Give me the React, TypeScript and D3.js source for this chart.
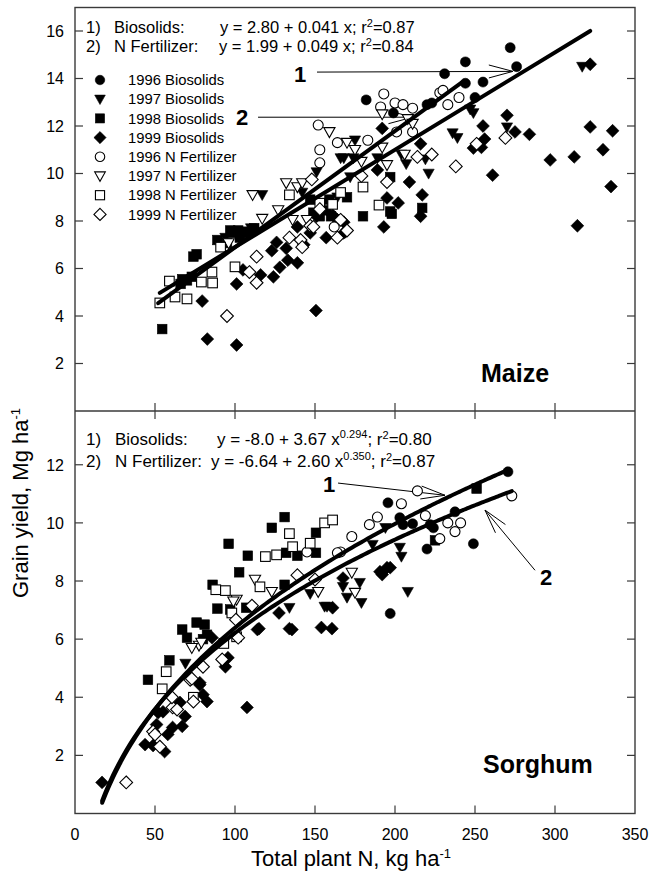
import React from 'react';
import * as d3 from 'd3';

type P = [number, number];

const FONT = "'Liberation Sans', Arial, Helvetica, sans-serif";

const xTicks = [0, 50, 100, 150, 200, 250, 300, 350];
const maizeYTicks = [2, 4, 6, 8, 10, 12, 14, 16];
const sorghumYTicks = [2, 4, 6, 8, 10, 12];

const legendLabels = [
  '1996 Biosolids', '1997 Biosolids', '1998 Biosolids', '1999 Biosolids',
  '1996 N Fertilizer', '1997 N Fertilizer', '1998 N Fertilizer', '1999 N Fertilizer',
];
const legendShapes = ['circle', 'triangle', 'square', 'diamond', 'circle', 'triangle', 'square', 'diamond'];
const legendFilled = [true, true, true, true, false, false, false, false];

// Maize linear fits: y = a + b x
const maizeIntercepts = [2.80, 1.99];
const maizeSlopes = [0.041, 0.049];
const maizeFitRanges: P[] = [[53, 322], [52, 242]];

// Sorghum power fits: y = a + b x^c
const sorghumIntercepts = [-8.0, -6.64];
const sorghumCoefs = [3.67, 2.60];
const sorghumExps = [0.294, 0.350];
const sorghumFitRanges: P[] = [[17, 273], [17, 271]];

// ---------------- Maize data ----------------
const maizeBio1996: P[] = [[182,13.1],[199,12.55],[220,12.9],[223,12.97],[231,14.2],[244,14.7],[244,13.8],[250,13.2],[255,13.85],[272,15.3],[276,14.5]];
const maizeBio1997: P[] = [[117,9.1],[94,7.3],[110,7.7],[142,9.2],[151,10.06],[164,9.0],[166,10.65],[168,10.65],[172,9.85],[174,10.65],[175,11.4],[189,10.65],[204,10.8],[207,10.4],[219,10.6],[221,10.0],[236,11.7],[239,11.5],[247,12.7],[249,12.55],[270,11.95],[317,14.5]];
const maizeBio1998: P[] = [[54.5,3.45],[66,5.35],[70,5.5],[73,5.65],[67,5.55],[74,6.5],[76,6.6],[89,7.2],[95,7.07],[97,7.6],[99,7.5],[102,7.6],[103,7.3],[105,7.55],[108,7.5],[112,7.7],[147,8.9],[149,8.35],[153,8.2],[157,8.45],[159,8.9],[160,8.2],[170,9.0],[180,8.2],[197,9.85],[197,8.4],[198,8.3],[217,8.55]];
const maizeBio1999: P[] = [[79.5,4.63],[82.7,3.03],[101,2.78],[101,5.35],[105,5.94],[116,5.73],[124,5.65],[128,6.05],[133,6.35],[139,6.24],[123,6.75],[132,6.85],[126,7.1],[143,7.0],[139,7.75],[147,7.5],[150.6,4.23],[151,8.2],[157,7.3],[161,8.25],[164,8.05],[168,7.95],[168,7.5],[169,7.55],[189,10.15],[192,11.9],[193,7.75],[195,8.97],[202,8.76],[209,9.64],[216,8.2],[217,9.1],[216,11.25],[249,11.07],[254,11.1],[255,12.0],[256,11.45],[261,9.93],[270,12.45],[275,11.75],[284,11.65],[297,10.57],[312,10.7],[314,7.8],[322,11.96],[322,14.6],[330,11.0],[335,9.45],[336,11.8]];
const maizeNF1996: P[] = [[152,12.04],[153,11.0],[153,10.45],[162,7.75],[164,11.3],[183,11.4],[191,12.8],[193,13.35],[200,12.97],[201,11.75],[205,12.9],[211,12.75],[211,11.75],[228,13.4],[230,13.5],[233,12.9],[240,13.2]];
const maizeNF1997: P[] = [[96,7.07],[111,9.1],[117,8.1],[127,8.46],[132,9.6],[136,8.05],[139,9.43],[142,9.6],[145,8.05],[159,11.75],[170,11.3],[175,11.0],[179,10.5],[192,11.1],[192,12.5],[195,10.36],[206,10.8],[208,12.3],[211,12.1]];
const maizeNF1998: P[] = [[53,4.55],[59,5.47],[62.5,4.8],[70,4.72],[79,5.43],[85.6,5.85],[86,5.39],[91,6.9],[100,6.07],[134,9.1],[153,8.75],[161,8.7],[166,9.2],[180,9.43],[190,8.67]];
const maizeNF1999: P[] = [[95,4.0],[109,5.85],[113.5,6.5],[113.5,5.4],[134,7.3],[141,7.2],[142,6.9],[147,7.8],[148,9.75],[149,7.75],[153,8.5],[164,7.3],[166,8.05],[170,7.6],[179,9.9],[195,9.64],[214,10.7],[223,10.8],[238,10.3],[251,11.25],[269,11.5]];

// ---------------- Sorghum data ----------------
const sorgBio1996: P[] = [[270.6,11.76],[237.5,10.38],[195.6,10.69],[203,10.18],[205,9.94],[211,9.97],[224,9.83],[222,9.94],[220,9.1],[249,9.28],[197,6.88]];
const sorgBio1997: P[] = [[69,5.16],[186,9.25],[194,9.83],[203,9.15],[204,8.84],[208,7.63],[167.5,7.8],[178,7.94],[170,7.43],[157.5,7.12],[147,7.56],[156,7.12],[134,7.08],[179,7.25]];
const sorgBio1998: P[] = [[131,10.2],[123,9.83],[96,9.28],[108,8.87],[102.6,8.3],[86,7.87],[89,7.05],[97,7.02],[107,7.08],[67,6.33],[70,6.05],[76,6.57],[81,6.5],[131,7.87],[132,8.97],[139,8.87],[150.6,8.97],[150.6,9.66],[45.6,4.6],[59,5.27],[80,6.0],[82.5,6.15],[251,11.18],[225,9.4]];
const sorgBio1999: P[] = [[16.9,1.07],[43.8,2.37],[48.8,2.34],[56,2.13],[51,3.06],[52,3.47],[55,3.5],[58,2.72],[61,2.96],[67,3.0],[68.8,3.34],[65.6,3.82],[78,4.5],[80,4.09],[82.5,3.85],[78,4.43],[85.6,6.05],[94,5.05],[95.6,5.36],[107.5,3.65],[114,6.33],[127.5,6.9],[134,6.36],[135.6,6.33],[115,6.36],[160.6,6.36],[161,7.08],[154,6.4],[167.5,8.1],[190.6,8.32],[195,8.46],[197,8.46],[192,8.22]];
const sorgNF1996: P[] = [[273,10.93],[214,11.1],[204,10.66],[189,10.2],[184,9.94],[173,9.53],[166,9.0],[164,8.97],[219,10.25],[233,10.0],[241,10.0],[237.5,9.7],[228,9.46],[145,9.0]];
const sorgNF1997: P[] = [[112.5,8.05],[123,7.63],[101,7.36],[152,7.63],[173,8.29],[175,7.6],[77.5,5.78],[79,5.88],[99,7.3],[73,5.7]];
const sorgNF1998: P[] = [[119,8.84],[126,8.9],[134,9.63],[136,9.18],[147,9.3],[156,10.0],[161,10.1],[88,7.7],[94,7.67],[98,6.9],[115.6,7.8],[57,4.88],[54.5,4.29],[74,4.0],[93,5.85],[101,6.08]];
const sorgNF1999: P[] = [[32,1.07],[48.8,2.82],[50,2.72],[53,2.3],[61,3.65],[63.8,3.58],[60.6,4.0],[72,4.6],[73,4.64],[80,5.05],[74,3.85],[92,5.3],[102,6.05],[100.6,6.67],[110.6,7.15],[139,8.2],[150,8.05]];

const maizeSeries = [maizeBio1996, maizeBio1997, maizeBio1998, maizeBio1999, maizeNF1996, maizeNF1997, maizeNF1998, maizeNF1999];
const sorghumSeries = [sorgBio1996, sorgBio1997, sorgBio1998, sorgBio1999, sorgNF1996, sorgNF1997, sorgNF1998, sorgNF1999];

// Layout
const W = 657, H = 876;
const L = 75, R = 635, TOP = 7.5, MID = 411, BOT = 813.5;

const x = d3.scaleLinear().domain([0, 350]).range([L, R]);
const yMaize = d3.scaleLinear().domain([0, 17]).range([MID, MID - 17 * 23.75]);
const ySorg = d3.scaleLinear().domain([0, 13.85]).range([BOT, MID]);

function Marker({ shape, filled, cx, cy, s = 1 }: { shape: string; filled: boolean; cx: number; cy: number; s?: number }) {
  const props = { fill: filled ? '#000' : '#fff', stroke: '#000', strokeWidth: filled ? 0.6 : 1.1 };
  if (shape === 'circle') return <circle cx={cx} cy={cy} r={5 * s} {...props} />;
  if (shape === 'square') {
    const h = 4.8 * s;
    return <rect x={cx - h} y={cy - h} width={2 * h} height={2 * h} {...props} />;
  }
  if (shape === 'diamond') {
    const r = 6.4 * s;
    return <path d={`M${cx},${cy - r}L${cx + r},${cy}L${cx},${cy + r}L${cx - r},${cy}Z`} {...props} />;
  }
  const w = 5.6 * s;
  return <path d={`M${cx - w},${cy - 4.3 * s}L${cx + w},${cy - 4.3 * s}L${cx},${cy + 5.6 * s}Z`} {...props} />;
}

function Arrow({ from, to, head = true }: { from: P; to: P; head?: boolean }) {
  const [x1, y1] = from, [x2, y2] = to;
  const ang = Math.atan2(y1 - y2, x1 - x2);
  const len = 25, spread = (15 * Math.PI) / 180;
  const a = [x2 + len * Math.cos(ang + spread), y2 + len * Math.sin(ang + spread)];
  const b = [x2 + len * Math.cos(ang - spread), y2 + len * Math.sin(ang - spread)];
  return (
    <g stroke="#000" strokeWidth={1} fill="none">
      <line x1={x1} y1={y1} x2={x2} y2={y2} />
      {head && <path d={`M${a[0]},${a[1]}L${x2},${y2}L${b[0]},${b[1]}`} />}
    </g>
  );
}

function Points({ series, y }: { series: P[][]; y: d3.ScaleLinear<number, number> }) {
  return (
    <g>
      {series.map((pts, si) =>
        pts.map((p, i) => (
          <Marker key={`${si}-${i}`} shape={legendShapes[si]} filled={legendFilled[si]} cx={x(p[0])} cy={y(p[1])} />
        ))
      )}
    </g>
  );
}

export default function App() {
  const maizeLines = maizeIntercepts.map((a, i) => {
    const [x0, x1] = maizeFitRanges[i];
    return d3.line<number>().x((v) => x(v)).y((v) => yMaize(a + maizeSlopes[i] * v))([x0, x1]) as string;
  });
  const sorgLines = sorghumIntercepts.map((a, i) => {
    const [x0, x1] = sorghumFitRanges[i];
    const xs = d3.range(x0, x1, 2).concat([x1]);
    return d3.line<number>().x((v) => x(v)).y((v) => ySorg(a + sorghumCoefs[i] * Math.pow(v, sorghumExps[i]))).curve(d3.curveMonotoneX)(xs) as string;
  });

  const axisColor = '#3a3a3a';
  const tickLen = 8;

  return (
    <svg width={W} height={H} style={{ position: 'absolute', left: 0, top: 0, background: '#fff' }} fontFamily={FONT}>
      <rect x={0} y={0} width={W} height={H} fill="#fff" />

      {/* frame */}
      <g stroke={axisColor} strokeWidth={1.4} fill="none">
        <rect x={L} y={TOP} width={R - L} height={BOT - TOP} />
        <line x1={L} x2={R} y1={MID} y2={MID} />
      </g>

      {/* ticks */}
      <g stroke={axisColor} strokeWidth={1.2}>
        {maizeYTicks.map((t) => (
          <g key={`mt${t}`}>
            <line x1={L} x2={L + tickLen} y1={yMaize(t)} y2={yMaize(t)} />
            <line x1={R} x2={R - tickLen} y1={yMaize(t)} y2={yMaize(t)} />
          </g>
        ))}
        {sorghumYTicks.map((t) => (
          <g key={`st${t}`}>
            <line x1={L} x2={L + tickLen} y1={ySorg(t)} y2={ySorg(t)} />
            <line x1={R} x2={R - tickLen} y1={ySorg(t)} y2={ySorg(t)} />
          </g>
        ))}
        {xTicks.slice(1, -1).map((t) => (
          <g key={`xt${t}`}>
            <line x1={x(t)} x2={x(t)} y1={BOT} y2={BOT - tickLen} />
            <line x1={x(t)} x2={x(t)} y1={MID - tickLen} y2={MID + tickLen} />
          </g>
        ))}
      </g>

      {/* tick labels */}
      <g fontSize={16} fill="#000" textAnchor="end">
        {maizeYTicks.map((t) => (
          <text key={`ml${t}`} x={64} y={yMaize(t) + 5.8}>{t}</text>
        ))}
        {sorghumYTicks.map((t) => (
          <text key={`sl${t}`} x={64} y={ySorg(t) + 5.8}>{t}</text>
        ))}
      </g>
      <g fontSize={16} fill="#000" textAnchor="middle">
        {xTicks.map((t) => (
          <text key={`xl${t}`} x={x(t)} y={840}>{t}</text>
        ))}
      </g>

      {/* axis titles */}
      <text x={351} y={866} fontSize={22} textAnchor="middle">
        Total plant N, kg ha<tspan dy={-8} fontSize={13}>-1</tspan>
      </text>
      <text transform="translate(28,503) rotate(-90)" fontSize={22} textAnchor="middle">
        Grain yield, Mg ha<tspan dy={-8} fontSize={13}>-1</tspan>
      </text>

      {/* Maize equations */}
      <g fontSize={16.5} fill="#000">
        <text x={86} y={33}>1)</text>
        <text x={114} y={33}>Biosolids:</text>
        <text x={220} y={33}>
          y = 2.80 + 0.041 x; r<tspan dy={-6} fontSize={11}>2</tspan><tspan dy={6}>=0.87</tspan>
        </text>
        <text x={86} y={51.5}>2)</text>
        <text x={114} y={51.5}>N Fertilizer:</text>
        <text x={219} y={51.5}>
          y = 1.99 + 0.049 x; r<tspan dy={-6} fontSize={11}>2</tspan><tspan dy={6}>=0.84</tspan>
        </text>
      </g>

      {/* Legend */}
      <g>
        {legendLabels.map((lab, i) => {
          const cy = 80 + i * 19.2;
          return (
            <g key={lab}>
              <Marker shape={legendShapes[i]} filled={legendFilled[i]} cx={100} cy={cy} s={0.95} />
              <text x={128} y={cy + 5.2} fontSize={14.8}>{lab}</text>
            </g>
          );
        })}
      </g>

      {/* Sorghum equations */}
      <g fontSize={17} fill="#000">
        <text x={86} y={445}>1)</text>
        <text x={115} y={445}>Biosolids:</text>
        <text x={217} y={445}>
          y = -8.0 + 3.67 x<tspan dy={-7} fontSize={11}>0.294</tspan><tspan dy={7}>; r</tspan>
          <tspan dy={-6} fontSize={11}>2</tspan><tspan dy={6}>=0.80</tspan>
        </text>
        <text x={86} y={467}>2)</text>
        <text x={115} y={467}>N Fertilizer:</text>
        <text x={211} y={467}>
          y = -6.64 + 2.60 x<tspan dy={-7} fontSize={11}>0.350</tspan><tspan dy={7}>; r</tspan>
          <tspan dy={-6} fontSize={11}>2</tspan><tspan dy={6}>=0.87</tspan>
        </text>
      </g>

      {/* annotation arrows */}
      <Arrow from={[x(151.25), yMaize(14.27)]} to={[x(273.75), yMaize(14.3)]} />
      <Arrow from={[x(114.4), yMaize(12.37)]} to={[x(211), yMaize(12.37)]} />
      <Arrow from={[x(164.4), ySorg(11.37)]} to={[x(231.25), ySorg(10.95)]} />
      <Arrow from={[x(287.5), ySorg(8.37)]} to={[x(256.25), ySorg(10.44)]} />

      <g fontSize={22} fontWeight="bold">
        <text x={294} y={82}>1</text>
        <text x={236} y={125}>2</text>
        <text x={323} y={492}>1</text>
        <text x={540} y={585}>2</text>
      </g>

      {/* points */}
      <Points series={maizeSeries} y={yMaize} />
      <Points series={sorghumSeries} y={ySorg} />

      {/* fit lines */}
      <g fill="none" stroke="#000" strokeWidth={4} strokeLinecap="round">
        {maizeLines.map((d, i) => <path key={`ml${i}`} d={d} />)}
        {sorgLines.map((d, i) => <path key={`sl${i}`} d={d} />)}
      </g>

      {/* panel labels */}
      <g fontSize={25} fontWeight="bold">
        <text x={481} y={382}>Maize</text>
        <text x={483} y={773}>Sorghum</text>
      </g>
    </svg>
  );
}
